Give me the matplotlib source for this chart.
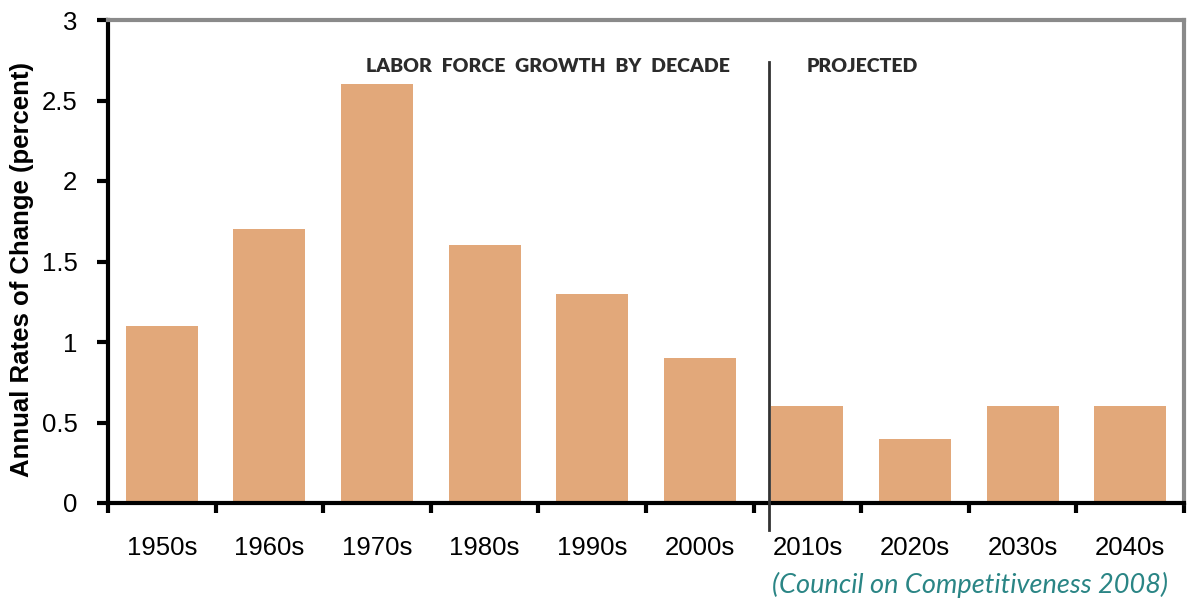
import numpy as np
import matplotlib.pyplot as plt

decades = ['1950s', '1960s', '1970s', '1980s', '1990s', '2000s',
           '2010s', '2020s', '2030s', '2040s']
rates = [1.1, 1.7, 2.6, 1.6, 1.3, 0.9, 0.6, 0.4, 0.6, 0.6]
yticks = [0, 0.5, 1, 1.5, 2, 2.5, 3]
ytick_labels = ['0', '0.5', '1', '1.5', '2', '2.5', '3']

bar_color = '#e2a87a'

fig = plt.figure(figsize=(11.97, 6.02), dpi=100)
ax = fig.add_axes([108 / 1197, 1 - 503 / 602, (1184 - 108) / 1197, (503 - 20) / 602])

x = np.arange(len(decades))
ax.bar(x, rates, width=0.67, color=bar_color, zorder=2)

ax.set_xlim(-0.5, len(decades) - 0.5)
ax.set_ylim(0, 3)

# ticks on the category boundaries, labels in the middle
ax.set_xticks(np.arange(len(decades) + 1) - 0.5)
ax.set_xticklabels([])
ax.set_xticks(x, minor=True)
ax.set_xticklabels(decades, minor=True, fontsize=18.5, family='Liberation Sans')
ax.tick_params(axis='x', which='major', direction='out', length=7, width=3, color='black')
ax.tick_params(axis='x', which='minor', length=0, pad=24)

ax.set_yticks(yticks)
ax.set_yticklabels(ytick_labels, fontsize=18.5, family='Liberation Sans')
ax.tick_params(axis='y', direction='out', length=8, width=3, color='black', pad=14)

for side in ['left', 'bottom']:
    ax.spines[side].set_linewidth(3)
    ax.spines[side].set_color('black')
for side in ['top', 'right']:
    ax.spines[side].set_linewidth(3)
    ax.spines[side].set_color('#8a8a8a')

ax.set_ylabel('Annual Rates of Change (percent)', fontsize=18.5, fontweight='bold',
              family='Liberation Sans')
ax.yaxis.label.set_va('center')
ax.yaxis.set_label_coords(-0.080, 0.484)

# divider between history and projection
ax.plot([5.64, 5.64], [-0.17, 2.74], color='#333333', lw=2, clip_on=False, zorder=3)

ax.text(3.59, 2.71, 'LABOR FORCE GROWTH BY DECADE'.replace(' ', '\u2002'),
        ha='center', va='center', fontsize=14, fontweight='heavy', color='#2b2b2b', family='Lato')
ax.text(6.51, 2.71, 'PROJECTED',
        ha='center', va='center', fontsize=14, fontweight='heavy', color='#2b2b2b', family='Lato')

fig.text(1168 / 1197, 1 - 585 / 602, '(Council on Competitiveness 2008)', ha='right', va='center',
         fontsize=19.5, style='italic', color='#2a8585', family='Lato')

fig.savefig('out.png', dpi=100)
